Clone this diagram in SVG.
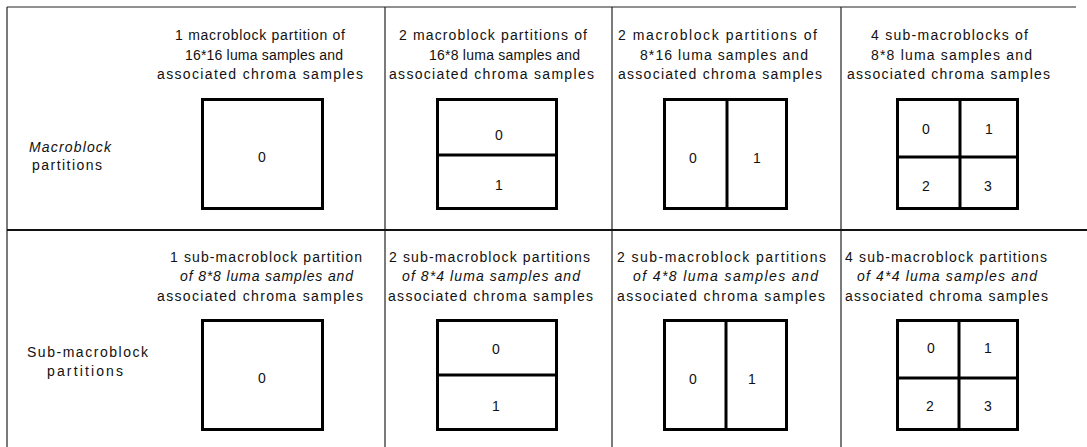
<svg xmlns="http://www.w3.org/2000/svg" width="1087" height="447" viewBox="0 0 1087 447">
<style>
text{font-family:"Liberation Sans",Arial,sans-serif;font-size:14px;fill:#111;}
.c{text-anchor:middle;}
.i{font-style:italic;}
.box{fill:#fff;stroke:#000;stroke-width:3;}
.div{stroke:#000;stroke-width:3;fill:none;}
.grid{stroke:#222;stroke-width:1.2;fill:none;}
</style>
<rect x="0" y="0" width="1087" height="447" fill="#fff"/>
<g id="grid">
<line class="grid" x1="7" y1="7" x2="1076" y2="7"/>
<line class="grid" x1="7" y1="7" x2="7" y2="447"/>
<line class="grid" x1="385" y1="7" x2="385" y2="447"/>
<line class="grid" x1="612" y1="7" x2="612" y2="447"/>
<line class="grid" x1="841" y1="7" x2="841" y2="447"/>
<line x1="7" y1="230" x2="1087" y2="230" stroke="#111" stroke-width="1.8"/>
</g>
<g id="label-macroblock">
<text x="29" y="151.5" textLength="82" lengthAdjust="spacing" class="i">Macroblock</text>
<text x="32" y="170" textLength="70" lengthAdjust="spacing">partitions</text>
</g>
<g id="label-submacroblock">
<text x="27" y="357" textLength="121" lengthAdjust="spacing">Sub-macroblock</text>
<text x="47" y="376" textLength="76" lengthAdjust="spacing">partitions</text>
</g>
<g id="mb-16x16">
<text x="175" y="39.5" textLength="170" lengthAdjust="spacing">1 macroblock partition of</text>
<text x="185" y="59.5" textLength="158" lengthAdjust="spacing">16*16 luma samples and</text>
<text x="157" y="79" textLength="206" lengthAdjust="spacing">associated chroma samples</text>
<rect class="box" x="202.5" y="99.5" width="120" height="109"/>
<text x="262" y="161.5" class="c">0</text>
</g>
<g id="mb-16x8">
<text x="399" y="39.5" textLength="188" lengthAdjust="spacing">2 macroblock partitions of</text>
<text x="429" y="59.5" textLength="151" lengthAdjust="spacing">16*8 luma samples and</text>
<text x="389" y="79" textLength="205" lengthAdjust="spacing">associated chroma samples</text>
<rect class="box" x="437.5" y="99.5" width="119" height="109"/>
<line class="div" x1="437.5" y1="155" x2="556.5" y2="155"/>
<text x="499" y="140" class="c">0</text>
<text x="499" y="190" class="c">1</text>
</g>
<g id="mb-8x16">
<text x="618" y="39.5" textLength="199" lengthAdjust="spacing">2 macroblock partitions of</text>
<text x="640" y="59.5" textLength="168" lengthAdjust="spacing">8*16 luma samples and</text>
<text x="618" y="79" textLength="204" lengthAdjust="spacing">associated chroma samples</text>
<rect class="box" x="664.5" y="99.5" width="122" height="109"/>
<line class="div" x1="727" y1="99.5" x2="727" y2="208.5"/>
<text x="693" y="163" class="c">0</text>
<text x="757" y="163" class="c">1</text>
</g>
<g id="mb-8x8">
<text x="871" y="39.5" textLength="157" lengthAdjust="spacing">4 sub-macroblocks of</text>
<text x="871" y="59.5" textLength="161" lengthAdjust="spacing">8*8 luma samples and</text>
<text x="847" y="79" textLength="203" lengthAdjust="spacing">associated chroma samples</text>
<rect class="box" x="897.5" y="99.5" width="120" height="109"/>
<line class="div" x1="960" y1="99.5" x2="960" y2="208.5"/>
<line class="div" x1="897.5" y1="157" x2="1017.5" y2="157"/>
<text x="926" y="134" class="c">0</text>
<text x="989" y="134" class="c">1</text>
<text x="926" y="190.5" class="c">2</text>
<text x="988" y="190.5" class="c">3</text>
</g>
<g id="sub-8x8">
<text x="170" y="261.5" textLength="192" lengthAdjust="spacing">1 sub-macroblock partition</text>
<text x="180" y="281" textLength="173" lengthAdjust="spacing" class="i">of 8*8 luma samples and</text>
<text x="157" y="300.5" textLength="206" lengthAdjust="spacing">associated chroma samples</text>
<rect class="box" x="202.5" y="320.5" width="120" height="109"/>
<text x="262" y="382.5" class="c">0</text>
</g>
<g id="sub-8x4">
<text x="389" y="261.5" textLength="201" lengthAdjust="spacing">2 sub-macroblock partitions</text>
<text x="402" y="281" textLength="178" lengthAdjust="spacing" class="i">of 8*4 luma samples and</text>
<text x="388" y="300.5" textLength="205" lengthAdjust="spacing">associated chroma samples</text>
<rect class="box" x="437.5" y="320.5" width="119" height="109"/>
<line class="div" x1="437.5" y1="375" x2="556.5" y2="375"/>
<text x="496" y="353.5" class="c">0</text>
<text x="496" y="410.5" class="c">1</text>
</g>
<g id="sub-4x8">
<text x="617" y="261.5" textLength="209" lengthAdjust="spacing">2 sub-macroblock partitions</text>
<text x="633" y="281" textLength="185" lengthAdjust="spacing" class="i">of 4*8 luma samples and</text>
<text x="617" y="300.5" textLength="208" lengthAdjust="spacing">associated chroma samples</text>
<rect class="box" x="664.5" y="320.5" width="122" height="109"/>
<line class="div" x1="726" y1="320.5" x2="726" y2="429.5"/>
<text x="693" y="383.5" class="c">0</text>
<text x="752" y="383.5" class="c">1</text>
</g>
<g id="sub-4x4">
<text x="845" y="261.5" textLength="202" lengthAdjust="spacing">4 sub-macroblock partitions</text>
<text x="857" y="281" textLength="180" lengthAdjust="spacing" class="i">of 4*4 luma samples and</text>
<text x="845" y="300.5" textLength="203" lengthAdjust="spacing">associated chroma samples</text>
<rect class="box" x="897.5" y="320.5" width="120" height="109"/>
<line class="div" x1="959" y1="320.5" x2="959" y2="429.5"/>
<line class="div" x1="897.5" y1="378" x2="1017.5" y2="378"/>
<text x="931" y="352.5" class="c">0</text>
<text x="988" y="352.5" class="c">1</text>
<text x="930" y="410.5" class="c">2</text>
<text x="988" y="410.5" class="c">3</text>
</g>
</svg>
